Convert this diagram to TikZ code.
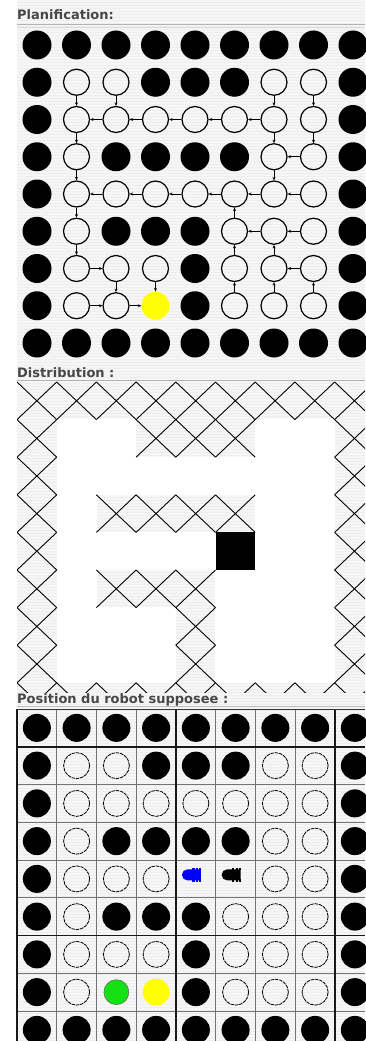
\documentclass[tikz,border=0pt]{standalone}
\usepackage{fontspec}
\setmainfont{DejaVu Sans}
\usetikzlibrary{patterns,arrows.meta,shapes.misc}
\definecolor{goalyellow}{RGB}{255,255,0}
\definecolor{robgreen}{RGB}{20,225,20}
\definecolor{robblue}{RGB}{0,0,255}
\newcommand\plancell[3]{\node[c#1] (p-#2-#3) at ({37+39.5*(#3-1)},{45+37.25*(#2-1)}) {};}
\newcommand\poscell[3]{\node[q#1] (q-#2-#3) at ({17+39.75*(#3-0.5)},{709+37.75*(#2-0.5)}) {};}
\newcommand\distW[2]{\fill[white] ({17+39.7*(#2-1)-0.2},{382+37.6*(#1-1)-0.2}) rectangle ++(40.1,38);}
\newcommand\distK[2]{\fill[black] ({17+39.7*(#2-1)},{382+37.6*(#1-1)}) rectangle ++(39.7,37.6);}
\newcommand\distH[2]{\draw[hatch] ({17+39.7*(#2-1)},{382+37.6*(#1-1)}) -- ++(39.7,37.6) ({17+39.7*#2},{382+37.6*(#1-1)}) -- ++(-39.7,37.6);}
\begin{document}
\begin{tikzpicture}[x=1pt,y=-1pt,
  cB/.style={circle,fill=black,minimum size=29pt,inner sep=0pt},
  cO/.style={circle,draw=black,line width=1.2pt,minimum size=26pt,inner sep=0pt},
  cY/.style={circle,fill=goalyellow,minimum size=28pt,inner sep=0pt},
  qB/.style={circle,fill=black,minimum size=28pt,inner sep=0pt},
  qO/.style={circle,draw=black,line width=0.8pt,dash pattern=on 3.5pt off 0.8pt,minimum size=26pt,inner sep=0pt},
  qG/.style={circle,fill=robgreen,draw=black!60,line width=0.5pt,minimum size=25pt,inner sep=0pt},
  qY/.style={circle,fill=goalyellow,minimum size=27pt,inner sep=0pt},
  qR/.style={rounded rectangle,rounded rectangle right arc=none,fill=robblue,minimum width=19pt,minimum height=11pt,inner sep=0pt,xshift=-4.5pt,yshift=4pt},
  qK/.style={rounded rectangle,rounded rectangle right arc=none,fill=black,minimum width=19pt,minimum height=11pt,inner sep=0pt,xshift=-4.5pt,yshift=4pt},
  edge/.style={line width=1pt,-{Stealth[length=3.5pt,width=3pt]}},
  title/.style={anchor=base west,inner sep=0pt,font=\bfseries\fontsize{13}{15}\selectfont,text=black!72},
  thingrid/.style={draw=black!55,line width=0.7pt},
  thickgrid/.style={draw=black!90,line width=1.5pt},
  hatch/.style={draw=black,line width=0.9pt}
]
\useasboundingbox (0,0) rectangle (365,1041);
% striped background
\fill[gray!7] (17,0) rectangle (365,1041);
\fill[pattern=horizontal lines,pattern color=gray!13] (17,0) rectangle (365,1041);

% ---------- titles ----------
\node[title] (t1) at (17,20) {Planification:};
\draw[gray!60,line width=1pt] (17,25) -- (365,25);
\draw[gray!30,line width=0.6pt] (17,27.5) -- (365,27.5);
\node[title] (t2) at (17,377) {Distribution :};
\draw[gray!60,line width=1pt] (17,380.5) -- (365,380.5);
\node[title] (t3) at (17,703) {Position du robot supposee :};
\draw[gray!50,line width=0.6pt] (17,706) -- (365,706);

% ---------- Planification ----------
\foreach \row [count=\r] in {
  {B,B,B,B,B,B,B,B,B},
  {B,O,O,B,B,B,O,O,B},
  {B,O,O,O,O,O,O,O,B},
  {B,O,B,B,B,B,O,O,B},
  {B,O,O,O,O,O,O,O,B},
  {B,O,B,B,B,O,O,O,B},
  {B,O,O,O,B,O,O,O,B},
  {B,O,O,Y,B,O,O,O,B},
  {B,B,B,B,B,B,B,B,B}}{
  \foreach \t [count=\c] in \row {\expandafter\plancell\expandafter{\t}{\r}{\c}}
}
\foreach \a/\b in {2-2/3-2,3-2/4-2,4-2/5-2,5-2/6-2,6-2/7-2,2-3/3-3,
  3-3/3-2,3-4/3-3,3-5/3-4,3-6/3-5,3-7/3-6,2-7/3-7,2-8/3-8,3-8/4-8,
  4-8/4-7,3-7/4-7,4-7/5-7,5-3/5-2,5-4/5-3,5-5/5-4,5-6/5-5,5-7/5-6,
  5-8/5-7,6-6/5-6,6-7/6-6,6-8/6-7,7-6/6-6,8-6/7-6,7-7/6-7,8-7/7-7,
  7-8/7-7,8-8/7-8,7-2/7-3,7-3/8-3,8-2/8-3,8-3/8-4,7-4/8-4}
  \draw[edge] (p-\a) -- (p-\b);

% ---------- Distribution ----------
\begin{scope}
\clip (17,381) rectangle (365,692);
\foreach \row [count=\r] in {
  {H,H,H,H,H,H,H,H,H},
  {H,W,W,H,H,H,W,W,H},
  {H,W,W,W,W,W,W,W,H},
  {H,W,H,H,H,H,W,W,H},
  {H,W,W,W,W,K,W,W,H},
  {H,W,H,H,H,W,W,W,H},
  {H,W,W,W,H,W,W,W,H},
  {H,W,W,W,H,W,W,W,H},
  {H,H,H,H,H,H,H,H,H}}{
  \foreach \t [count=\c] in \row {\if\t W\distW{\r}{\c}\fi\if\t K\distK{\r}{\c}\fi}
}
\foreach \row [count=\r] in {
  {H,H,H,H,H,H,H,H,H},
  {H,W,W,H,H,H,W,W,H},
  {H,W,W,W,W,W,W,W,H},
  {H,W,H,H,H,H,W,W,H},
  {H,W,W,W,W,K,W,W,H},
  {H,W,H,H,H,W,W,W,H},
  {H,W,W,W,H,W,W,W,H},
  {H,W,W,W,H,W,W,W,H},
  {H,H,H,H,H,H,H,H,H}}{
  \foreach \t [count=\c] in \row {\if\t H\distH{\r}{\c}\fi}
}
\end{scope}

% ---------- Position du robot ----------
\foreach \k in {0,...,8} {
  \draw[thingrid] ({17+39.75*\k},709) -- ({17+39.75*\k},1041);
  \draw[thingrid] (17,{709+37.75*\k}) -- (365,{709+37.75*\k});
}
\foreach \k in {0,4,8} \draw[thickgrid] ({17+39.75*\k},709) -- ({17+39.75*\k},1041);
\foreach \k in {1,6} \draw[thickgrid] (17,{709+37.75*\k}) -- (365,{709+37.75*\k});
\draw[draw=black!80,line width=1pt] (17,709) -- (365,709);
\foreach \row [count=\r] in {
  {B,B,B,B,B,B,B,B,B},
  {B,O,O,B,B,B,O,O,B},
  {B,O,O,O,O,O,O,O,B},
  {B,O,B,B,B,B,O,O,B},
  {B,O,O,O,R,K,O,O,B},
  {B,O,B,B,B,O,O,O,B},
  {B,O,O,O,B,O,O,O,B},
  {B,O,G,Y,B,O,O,O,B},
  {B,B,B,B,B,B,B,B,B}}{
  \foreach \t [count=\c] in \row {\expandafter\poscell\expandafter{\t}{\r}{\c}}
}
% robot wheels
\foreach \n/\col in {q-5-5/robblue,q-5-6/black} {
  \draw[\col,line width=2.4pt,dash pattern=on 2.2pt off 1.2pt] ([xshift=5pt]\n.north west) -- (\n.north east);
  \draw[\col,line width=2.4pt,dash pattern=on 2.2pt off 1.2pt] ([xshift=5pt]\n.south west) -- (\n.south east);
}
\end{tikzpicture}
\end{document}
